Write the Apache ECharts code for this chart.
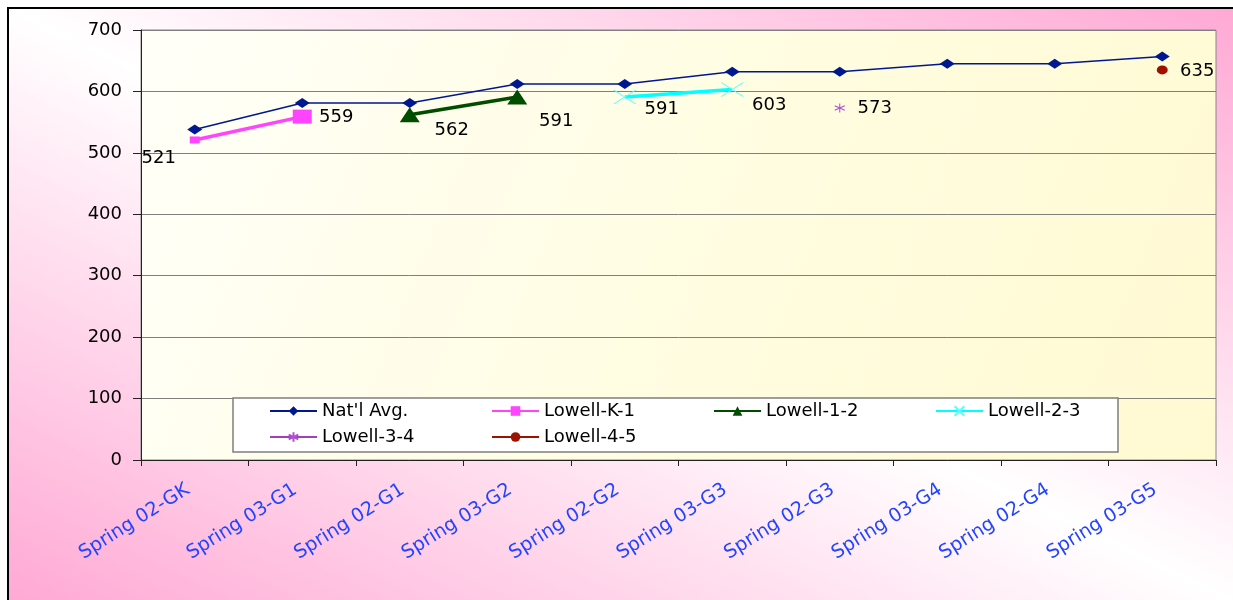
<!DOCTYPE html>
<html>
<head>
<meta charset="utf-8">
<title>Nat'l Avg. vs Lowell</title>
<script src="https://cdn.jsdelivr.net/npm/echarts@6/dist/echarts.min.js"></script>
<style>
html, body {
  margin: 0;
  padding: 0;
  background: #fff;
  overflow: hidden;
}
.frame {
  position: absolute;
  left: 7px;
  top: 7px;
  width: 1240px;
  height: 600px;
  border-top: 2px solid #000;
  border-left: 2px solid #000;
  background: linear-gradient(to top right, #ffa8d4 0%, #ffffff 50%, #ffa8d4 100%);
}
#chart {
  position: absolute;
  left: 0;
  top: 0;
  width: 1233px;
  height: 600px;
}
</style>
</head>
<body>
<div class="frame"></div>
<div id="chart"></div>
<script>
// categories + values
const categories = [
  'Spring 02-GK', 'Spring 03-G1', 'Spring 02-G1', 'Spring 03-G2', 'Spring 02-G2',
  'Spring 03-G3', 'Spring 02-G3', 'Spring 03-G4', 'Spring 02-G4', 'Spring 03-G5'
];
const natAvg = [538, 581, 581, 612, 612, 632, 632, 645, 645, 657];
const lowellK1 = [521, 559, null, null, null, null, null, null, null, null];
const lowell12 = [null, null, 562, 591, null, null, null, null, null, null];
const lowell23 = [null, null, null, null, 591, 603, null, null, null, null];
const lowell34 = [null, null, null, null, null, null, 573, null, null, null];
const lowell45 = [null, null, null, null, null, null, null, null, null, 635];
const yTicks = [0, 100, 200, 300, 400, 500, 600, 700];

const FONT = 'DejaVu Sans';

// label offsets (px) from each point, like the excel labels
function items(values, offsets, sizes) {
  let k = 0;
  return values.map((v, i) => {
    if (v == null) return null;
    let it = { value: v };
    if (offsets) it.label = { offset: offsets[k] };
    if (sizes) it.symbolSize = sizes[k];
    k++;
    return it;
  });
}

const valueLabel = {
  show: true,
  position: 'inside',
  formatter: '{c}',
  fontFamily: FONT,
  fontSize: 18,
  color: '#000'
};

const chart = echarts.init(document.getElementById('chart'), null, { renderer: 'canvas' });

const xMarker = 'path://M0,0L10,10M10,0L0,10';
const starMarker = 'path://M5,0L5,10M0,2.5L10,7.5M0,7.5L10,2.5';

let legendPos = [
  [269, 402], [491, 402], [713, 402], [935, 402],
  [269, 428], [491, 428]
];
let names = ["Nat'l Avg.", 'Lowell-K-1', 'Lowell-1-2', 'Lowell-2-3', 'Lowell-3-4', 'Lowell-4-5'];

let option = {
  animation: false,
  backgroundColor: 'transparent',
  grid: {
    left: 141,
    right: 17,
    top: 30,
    bottom: 140,
    show: true,
    borderColor: '#888',
    borderWidth: 1,
    backgroundColor: new echarts.graphic.LinearGradient(0, 0, 1, 1, [
      { offset: 0, color: '#fffff8' },
      { offset: 0.5, color: '#fffde2' },
      { offset: 1, color: '#fffad2' }
    ])
  },
  legend: legendPos.map((p, i) => ({
    data: [names[i]],
    left: p[0],
    top: p[1],
    padding: 0,
    itemWidth: 47,
    itemHeight: 12,
    itemGap: 6,
    textStyle: { fontFamily: FONT, fontSize: 18, color: '#000' }
  })),
  graphic: [
    {
      type: 'rect',
      z: 3,
      shape: { x: 233, y: 398, width: 885, height: 54 },
      style: { fill: '#fff', stroke: '#7f7f7f', lineWidth: 1.5 }
    }
  ],
  xAxis: {
    type: 'category',
    data: categories,
    boundaryGap: true,
    axisLine: { lineStyle: { color: '#222', width: 1 } },
    axisTick: { show: true, length: 6, lineStyle: { color: '#222' } },
    axisLabel: {
      rotate: 32,
      margin: 24,
      padding: [0, 8, 0, 0],
      fontFamily: FONT,
      fontSize: 19,
      color: '#2244ff',
      interval: 0
    },
    splitLine: { show: false }
  },
  yAxis: {
    type: 'value',
    min: yTicks[0],
    max: yTicks[yTicks.length - 1],
    interval: 100,
    axisLine: { show: true, lineStyle: { color: '#222', width: 1 } },
    axisTick: { show: true, length: 8, lineStyle: { color: '#222' } },
    axisLabel: { margin: 19, fontFamily: FONT, fontSize: 18, color: '#000' },
    splitLine: { show: true, lineStyle: { color: '#7f7f7f', width: 1 } }
  },
  series: [
    {
      name: "Nat'l Avg.",
      type: 'line',
      data: natAvg,
      symbol: 'diamond',
      symbolSize: [15, 10],
      z: 3,
      lineStyle: { color: '#00188f', width: 1.5 },
      itemStyle: { color: '#00188f' }
    },
    {
      name: 'Lowell-K-1',
      type: 'line',
      data: items(lowellK1, [[-36, 18], [34, 1]], [[10, 7], [19, 14]]),
      symbol: 'rect',
      lineStyle: { color: '#ff44ff', width: 3.5 },
      itemStyle: { color: '#ff44ff' },
      label: valueLabel
    },
    {
      name: 'Lowell-1-2',
      type: 'line',
      data: items(lowell12, [[42, 16], [39, 24]]),
      symbol: 'triangle',
      symbolSize: [20, 15],
      lineStyle: { color: '#004d00', width: 3.5 },
      itemStyle: { color: '#004d00' },
      label: valueLabel
    },
    {
      name: 'Lowell-2-3',
      type: 'line',
      data: items(lowell23, [[37, 12], [37, 16]]),
      symbol: xMarker,
      symbolSize: [22, 14],
      lineStyle: { color: '#00ffff', width: 3.5 },
      itemStyle: { color: 'rgba(0,0,0,0)', borderColor: '#55ffff', borderWidth: 1 },
      label: valueLabel
    },
    {
      name: 'Lowell-3-4',
      type: 'line',
      data: items(lowell34, [[35, 0]]),
      symbol: starMarker,
      symbolSize: [10, 9],
      lineStyle: { color: '#a040c0', width: 1.5 },
      itemStyle: { color: 'rgba(0,0,0,0)', borderColor: '#b050d0', borderWidth: 1 },
      label: valueLabel
    },
    {
      name: 'Lowell-4-5',
      type: 'line',
      data: items(lowell45, [[35, 1]]),
      symbol: 'circle',
      symbolSize: [11, 9],
      lineStyle: { color: '#a01000', width: 1.5 },
      itemStyle: { color: '#a01000' },
      label: valueLabel
    }
  ]
};

chart.setOption(option);
window.addEventListener('resize', () => chart.resize());
</script>
</body>
</html>
